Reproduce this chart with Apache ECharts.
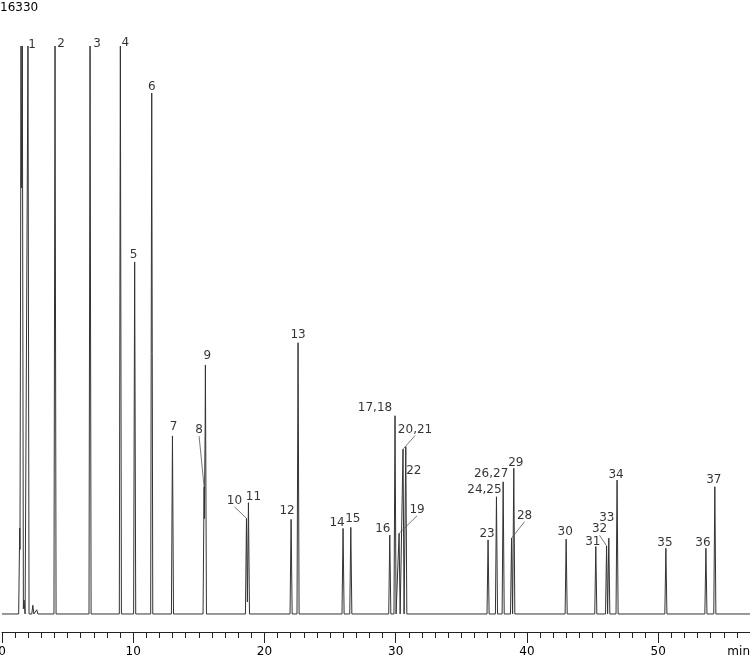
<!DOCTYPE html>
<html lang="en">
<head>
    <meta charset="UTF-8">
    <title>Chromatogram</title>
    <style>
        body { margin: 0; background: #fff; }
    </style>
</head>
<body>
<div id="main" style="width: 750px;height: 656px;"></div>
<script src="https://cdn.jsdelivr.net/npm/echarts@6/dist/echarts.min.js"></script>
<script type="text/javascript">
    // peak table (time in min, height in counts)
    var peakNames = ['1', '2', '3', '4', '5', '6', '7', '8', '9', '10', '11', '12', '13', '14', '15', '16',
        '17,18', '19', '20,21', '22', '23', '24,25', '26,27', '28', '29', '30', '31', '32', '33', '34',
        '35', '36', '37'];
    var peakTimes = [1.98, 4.04, 6.71, 9.02, 10.11, 11.41, 12.99, 15.40, 15.50, 18.63, 18.78, 22.03,
        22.56, 25.99, 26.58, 29.55, 29.95, 30.26, 30.56, 30.77, 37.04, 37.68, 38.19, 38.83, 39.00,
        42.99, 45.25, 46.07, 46.24, 46.87, 50.59, 53.64, 54.32];
    var peakHeights = [16330, 16330, 16330, 16330, 10120, 14980, 5120, 3660, 7160, 2750, 3200, 2720,
        7800, 2460, 2490, 2270, 5700, 2320, 4740, 4810, 2130, 3370, 3800, 2180, 4190,
        2150, 1940, 1960, 2180, 3850, 1890, 1890, 3660];
    // solvent front and small unlabelled bumps
    var extraTimes = [1.35, 1.45, 1.55, 1.68, 2.35, 2.65];
    var extraHeights = [2470, 16330, 16330, 400, 250, 120];
    var yMaxLabel = 16330;

    // label nudges in px (dx, dy), and which ones get a leader line
    var labelShift = [[4, 5], [6, 4], [7, 4], [5, 3], [-1, -1], [0, 0], [1, -3], [-5, -50], [2, -3],
        [-12, -11], [5, 1], [-4, -2], [0, -1], [-6, 1], [2, -2], [-7, 0], [-20, -1], [18, -17],
        [12, -13], [8, 31], [-1, 0], [-12, 0], [-12, -1], [13, -16], [2, 1], [-1, -1], [-3, 2],
        [-7, -10], [-2, -14], [-1, 1], [-1, 1], [-3, 1], [-1, 0]];
    var leader = ['8', '10', '19', '20,21', '28', '32'];

    var halfW = 0.08;

    // build the trace: every peak is a narrow spike, overlapping spikes take the higher value
    function buildTrace() {
        var ts = peakTimes.concat(extraTimes);
        var hs = peakHeights.concat(extraHeights);
        var keys = [0, 57];
        for (var i = 0; i < ts.length; i++) {
            keys.push(ts[i] - halfW, ts[i], ts[i] + halfW);
        }
        keys.sort(function (a, b) { return a - b; });
        var out = [];
        for (var k = 0; k < keys.length; k++) {
            var x = keys[k], v = 0;
            for (var j = 0; j < ts.length; j++) {
                var d = Math.abs(x - ts[j]);
                if (d < halfW) v = Math.max(v, hs[j] * (1 - d / halfW));
            }
            out.push([+x.toFixed(3), Math.round(v)]);
        }
        return out;
    }

    var labelData = peakNames.map(function (n, i) {
        var item = {name: n, value: [peakTimes[i], peakHeights[i]]};
        if (leader.indexOf(n) >= 0) {
            item.labelLine = {show: true};
        }
        return item;
    });

    var myChart = echarts.init(document.getElementById('main'));
    var option = {
        animation: false,
        textStyle: {fontFamily: 'DejaVu Sans'},
        grid: {left: 2, right: 0, top: 46, bottom: 24, containLabel: false, outerBoundsMode: 'none'},
        graphic: [
            {type: 'text', left: 0, top: 2, style: {text: String(yMaxLabel), font: '12px DejaVu Sans', fill: '#000'}},
            {type: 'text', right: 0, top: 646, style: {text: 'min', font: '12px DejaVu Sans', fill: '#000'}}
        ],
        xAxis: {
            type: 'value',
            min: 0,
            max: 57,
            interval: 10,
            splitLine: {show: false},
            axisLine: {onZero: false, lineStyle: {color: '#222', width: 1}},
            axisTick: {length: 11, lineStyle: {color: '#222'}},
            minorTick: {show: true, splitNumber: 10, length: 6, lineStyle: {color: '#222'}},
            axisLabel: {color: '#000', fontSize: 12, margin: 14, fontFamily: 'DejaVu Sans', showMaxLabel: false}
        },
        yAxis: {
            type: 'value',
            min: -518,
            max: yMaxLabel,
            show: false
        },
        series: [
            {
                type: 'line',
                data: buildTrace(),
                showSymbol: false,
                sampling: 'none',
                lineStyle: {color: '#333', width: 1},
                silent: true,
                z: 2
            },
            {
                type: 'scatter',
                data: labelData,
                symbolSize: 1,
                itemStyle: {color: 'rgba(0,0,0,0)'},
                silent: true,
                label: {
                    show: true,
                    position: 'top',
                    distance: 0,
                    formatter: '{b}',
                    color: '#000',
                    fontSize: 12,
                    fontFamily: 'DejaVu Sans'
                },
                labelLine: {show: false, lineStyle: {color: '#555', width: 0.8}},
                labelLayout: function (p) {
                    var s = labelShift[p.dataIndex];
                    return {dx: s[0], dy: s[1]};
                },
                z: 3
            }
        ]
    };
    myChart.setOption(option);
</script>
</body>
</html>
